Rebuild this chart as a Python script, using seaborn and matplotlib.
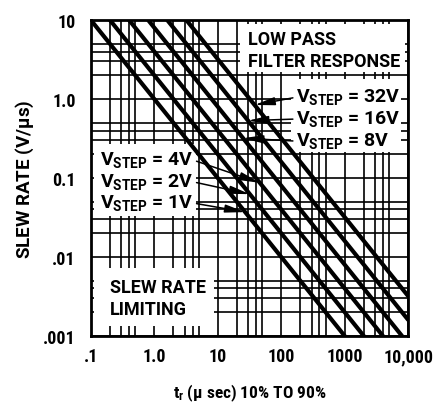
import matplotlib
matplotlib.use("Agg")
import matplotlib.pyplot as plt
from matplotlib.patches import Rectangle
from matplotlib.ticker import LogLocator, FixedLocator, NullFormatter
import seaborn as sns
import pandas as pd

# lines of constant step voltage: slew rate vs rise time
v_step = [1, 2, 4, 8, 16, 32]
tr_start = [0.1, 0.2, 0.4, 0.8, 1.6, 3.2]
sr_start = [10, 10, 10, 10, 10, 10]
tr_end = [1000, 2000, 4000, 8000, 10000, 10000]
sr_end = [0.001, 0.001, 0.001, 0.001, 0.0016, 0.0032]

# where the label arrows touch each line (rise time, us)
arrow_tr = {32: 38, 16: 30, 8: 25, 4: 46, 2: 32, 1: 27}

x_ticks = [0.1, 1, 10, 100, 1000, 10000]
x_tick_labels = [".1", "1.0", "10", "100", "1000", "10,000"]
y_ticks = [0.001, 0.01, 0.1, 1, 10]
y_tick_labels = [".001", ".01", "0.1", "1.0", "10"]

rows = []
for v, t0, s0, t1, s1 in zip(v_step, tr_start, sr_start, tr_end, sr_end):
    rows.append({"vstep": v, "tr": t0, "sr": s0})
    rows.append({"vstep": v, "tr": t1, "sr": s1})
df = pd.DataFrame(rows)

sns.set_style("white")
plt.rcParams["font.family"] = ["Roboto Condensed", "Roboto", "DejaVu Sans"]
plt.rcParams["font.stretch"] = "condensed"
plt.rcParams["font.weight"] = "bold"
plt.rcParams["axes.labelweight"] = "bold"
plt.rcParams["mathtext.default"] = "regular"
for k in ["text.color", "axes.labelcolor", "xtick.color", "ytick.color"]:
    plt.rcParams[k] = "black"

# wider face for the captions inside the chart
wide = dict(family=["Roboto", "DejaVu Sans"], fontstretch="normal",
            fontweight="bold")

fig = plt.figure(figsize=(4.37, 4.06), dpi=100)
ax = fig.add_axes([0.208, 0.170, 0.726, 0.778])
ax.set_xscale("log")
ax.set_yscale("log")
ax.set_xlim(0.1, 10000)
ax.set_ylim(0.001, 10)

# grid at 1,2,3,4,5 of each decade
ax.xaxis.set_major_locator(FixedLocator(x_ticks))
ax.yaxis.set_major_locator(FixedLocator(y_ticks))
ax.xaxis.set_minor_locator(LogLocator(base=10, subs=[2, 3, 4, 5]))
ax.yaxis.set_minor_locator(LogLocator(base=10, subs=[2, 3, 4, 5]))
ax.xaxis.set_minor_formatter(NullFormatter())
ax.yaxis.set_minor_formatter(NullFormatter())
ax.set_xticklabels(x_tick_labels)
ax.set_yticklabels(y_tick_labels)
ax.grid(True, which="both", color="black", linewidth=1.2)
ax.set_axisbelow(True)
ax.tick_params(which="both", length=0)
ax.tick_params(axis="x", pad=8, labelsize=13)
ax.tick_params(axis="y", pad=11, labelsize=13)
for s in ax.spines.values():
    s.set_linewidth(2)
    s.set_color("black")

# white areas behind the captions (grid stubs remain at their edges)
masks = [
    (22.5, 8900, 2.22, 8.9),
    (140, 7600, 0.215, 1.8),
    (0.112, 4.5, 0.033, 0.27),
    (0.112, 8.6, 0.00135, 0.0072),
]
for x0, x1, y0, y1 in masks:
    ax.add_patch(Rectangle((x0, y0), x1 - x0, y1 - y0, facecolor="white",
                           edgecolor="none", zorder=1))

sns.lineplot(data=df, x="tr", y="sr", units="vstep", estimator=None,
             color="black", linewidth=3.0, ax=ax, zorder=3)
ax.set_xlabel(r"t$_r$ ($\mu$ sec) 10% TO 90%", fontsize=12.5, labelpad=12)
ax.set_ylabel(r"SLEW RATE (V/$\mu$s)", fontsize=13.5, labelpad=5, **wide)

tkw = dict(transform=ax.transAxes, fontsize=13, va="center", ha="left",
           zorder=5, **wide)
ax.text(0.495, 0.940, "LOW PASS", **tkw)
ax.text(0.495, 0.870, "FILTER RESPONSE", **tkw)
ax.text(0.060, 0.155, "SLEW RATE", **tkw)
ax.text(0.060, 0.085, "LIMITING", **tkw)

akw = dict(arrowstyle="-|>,head_length=1.0,head_width=0.2", color="black",
           lw=1.1, mutation_scale=12, shrinkA=0, shrinkB=0)
right_labels = [(32, 0.759), (16, 0.690), (8, 0.620)]
left_labels = [(4, 0.560), (2, 0.491), (1, 0.424)]
for v, ty in right_labels:
    t = arrow_tr[v]
    ax.annotate(r"V$_{STEP}$ = %dV" % v, xy=(t, v / t), xycoords="data",
                xytext=(0.647, ty), textcoords="axes fraction",
                fontsize=14, va="center", ha="left",
                arrowprops=dict(akw, relpos=(0, 0.45)), zorder=5, **wide)
for v, ty in left_labels:
    t = arrow_tr[v]
    ax.annotate(r"V$_{STEP}$ = %dV" % v, xy=(t, v / t), xycoords="data",
                xytext=(0.028, ty), textcoords="axes fraction",
                fontsize=14, va="center", ha="left",
                arrowprops=dict(akw, relpos=(1, 0.45)), zorder=5, **wide)

fig.savefig("out.png", dpi=100)
plt.close()
